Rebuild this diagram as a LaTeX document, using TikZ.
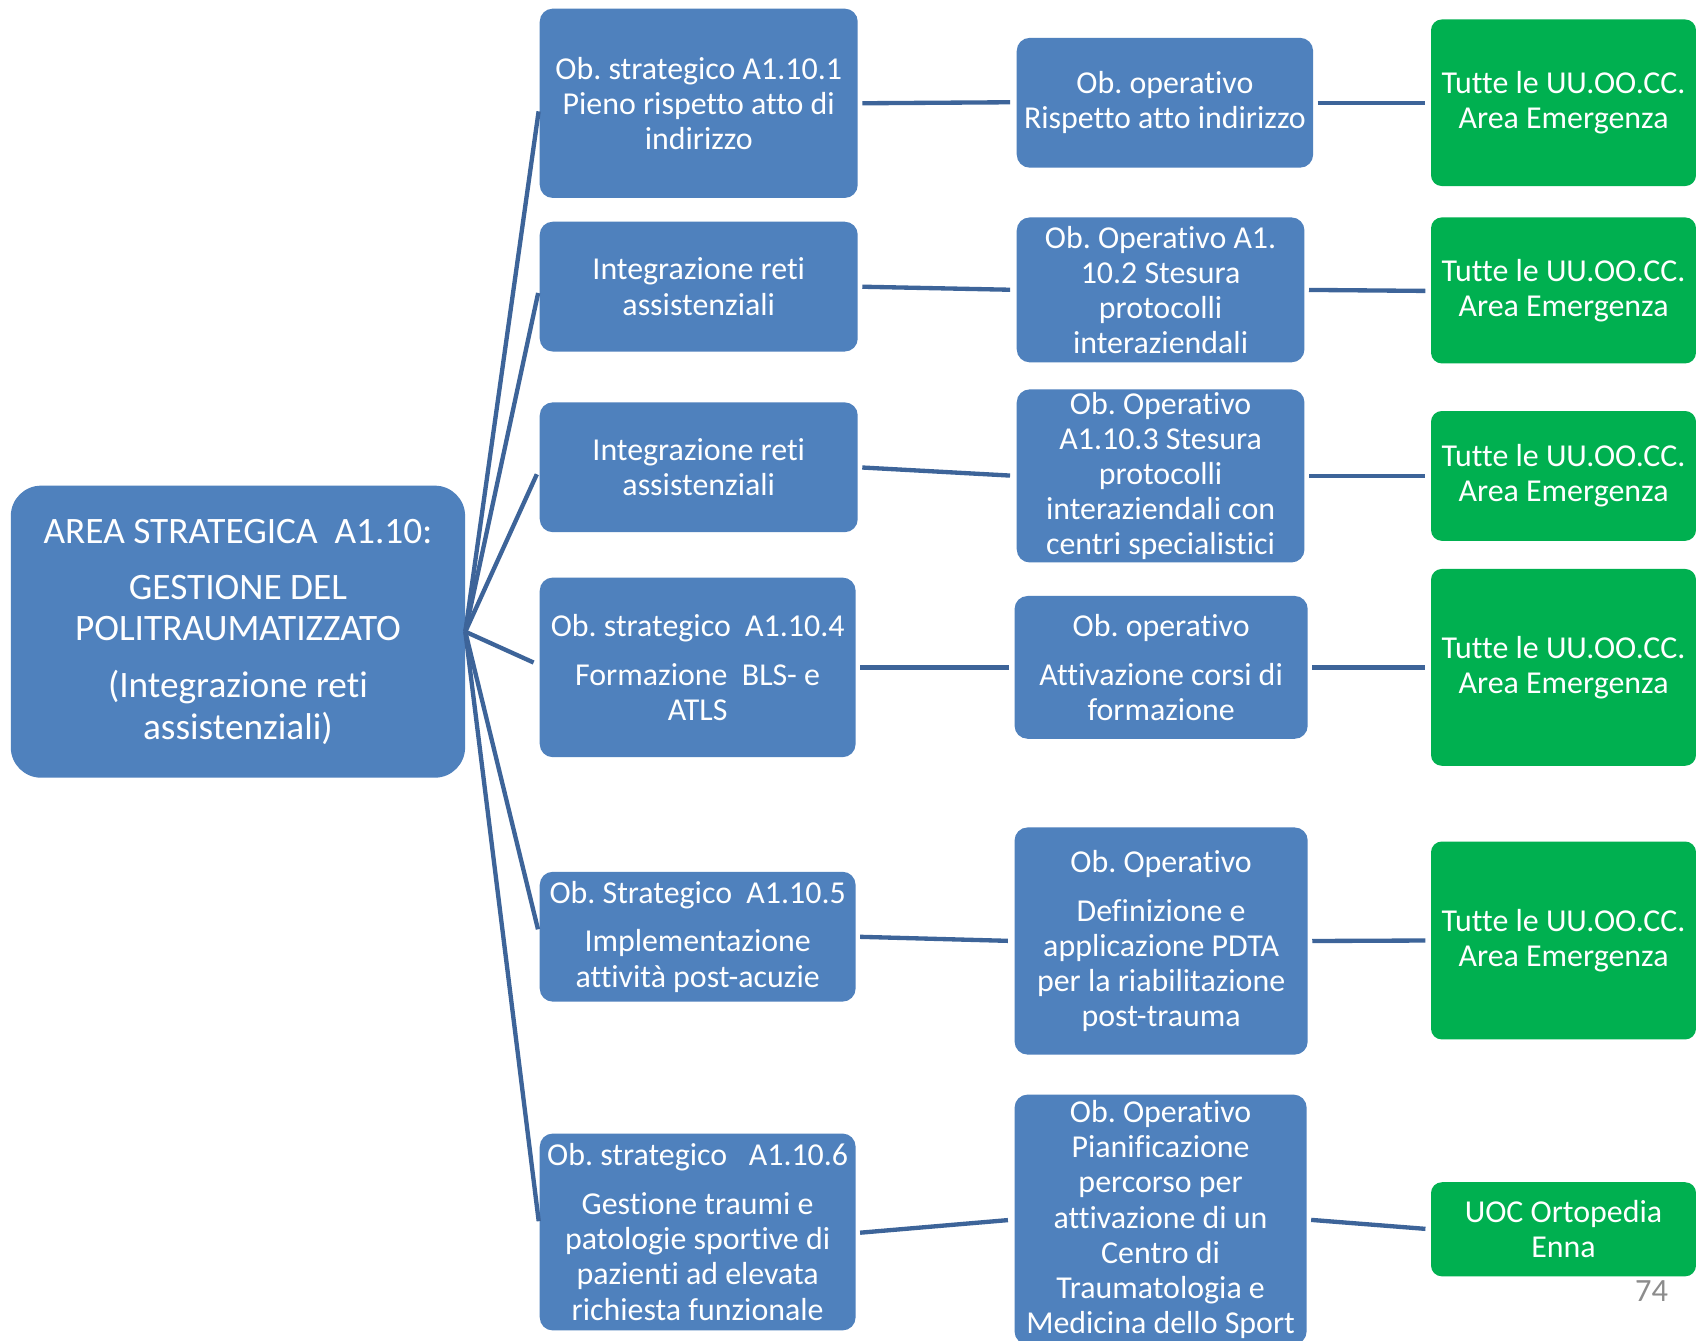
\documentclass[tikz,border=0pt]{standalone}
\usepackage{fontspec}
\setmainfont{Carlito}[Ligatures=NoCommon]
\frenchspacing
\definecolor{boxblue}{HTML}{4F81BD}
\definecolor{boxgreen}{HTML}{00B050}
\definecolor{linkblue}{HTML}{3D6499}
\definecolor{pagegray}{HTML}{8C8C8C}
\begin{document}
\begin{tikzpicture}[x=1pt,y=-1pt,
  txt/.style={text=white, align=center, inner sep=0pt,
    font=\fontsize{29.5}{32.5}\selectfont\frenchspacing},
  blk/.style={txt, fill=boxblue, rounded corners=12pt},
  grn/.style={txt, fill=boxgreen, rounded corners=10pt},
  link/.style={draw=linkblue, line width=4pt},
  fan/.style={link, shorten >=6pt}]
\clip (0,0) rectangle (1568,1239);
\fill[white] (0,0) rectangle (1568,1239);

% root area
\node[blk, rounded corners=28pt, minimum width=420pt, minimum height=270pt,
      font=\fontsize{34.5}{38}\selectfont] (root) at (220,584)
  {AREA STRATEGICA\ \ A1.10:\\[14pt]GESTIONE DEL\\POLITRAUMATIZZATO\\[15pt](Integrazione reti\\assistenziali)};

% strategic objectives
\node[blk, minimum width=294pt, minimum height=175pt] (s1) at (646,95.5)
  {Ob. strategico A1.10.1\\Pieno rispetto atto di\\indirizzo};
\node[blk, minimum width=294pt, minimum height=120pt] (s2) at (646,265)
  {Integrazione reti\\assistenziali};
\node[blk, minimum width=294pt, minimum height=120pt] (s3) at (646,432)
  {Integrazione reti\\assistenziali};
\node[blk, minimum width=292pt, minimum height=166pt] (s4) at (645,617)
  {Ob. strategico\ \ A1.10.4\\[12.5pt]Formazione\ \ BLS- e\\ATLS};
\node[blk, minimum width=292pt, minimum height=120pt] (s5) at (645,866)
  {Ob. Strategico\ \ A1.10.5\\[12.5pt]Implementazione\\attività post-acuzie};
\node[blk, minimum width=292pt, minimum height=182pt] (s6) at (645,1139)
  {Ob. strategico\ \ \ A1.10.6\\[12.5pt]Gestione traumi e\\patologie sportive di\\pazienti ad elevata\\richiesta funzionale};

% operative objectives
\node[blk, minimum width=274pt, minimum height=120pt] (o1) at (1077,95)
  {Ob. operativo\\Rispetto atto indirizzo};
\node[blk, minimum width=266pt, minimum height=134pt] (o2) at (1073,268)
  {Ob. Operativo A1.\\10.2 Stesura\\protocolli\\interaziendali};
\node[blk, minimum width=266pt, minimum height=160pt] (o3) at (1073,440)
  {Ob. Operativo\\A1.10.3 Stesura\\protocolli\\interaziendali con\\centri specialistici};
\node[blk, minimum width=271pt, minimum height=132pt] (o4) at (1073.5,617)
  {Ob. operativo\\[12.5pt]Attivazione corsi di\\formazione};
\node[blk, minimum width=271pt, minimum height=210pt] (o5) at (1073.5,870)
  {Ob. Operativo\\[12.5pt]Definizione e\\applicazione PDTA\\per la riabilitazione\\post-trauma};
\node[blk, minimum width=270pt, minimum height=231pt] (o6) at (1073,1127.5)
  {Ob. Operativo\\Pianificazione\\percorso per\\attivazione di un\\Centro di\\Traumatologia e\\Medicina dello Sport};

% responsible units
\node[grn, minimum width=245pt, minimum height=154pt] (g1) at (1445.5,95)
  {Tutte le UU.OO.CC.\\Area Emergenza};
\node[grn, minimum width=245pt, minimum height=135pt] (g2) at (1445.5,268.5)
  {Tutte le UU.OO.CC.\\Area Emergenza};
\node[grn, minimum width=245pt, minimum height=120pt] (g3) at (1445.5,440)
  {Tutte le UU.OO.CC.\\Area Emergenza};
\node[grn, minimum width=245pt, minimum height=182pt] (g4) at (1445.5,617)
  {Tutte le UU.OO.CC.\\Area Emergenza};
\node[grn, minimum width=245pt, minimum height=183pt] (g5) at (1445.5,869.5)
  {Tutte le UU.OO.CC.\\Area Emergenza};
\node[grn, minimum width=245pt, minimum height=87pt] (g6) at (1445.5,1136.5)
  {UOC Ortopedia\\Enna};

% page number
\node[text=pagegray, inner sep=0pt, font=\fontsize{30}{32}\selectfont] (pg) at (1527,1194) {74};

% fan from the root area to the strategic objectives
\draw[fan] (root.east) -- ([yshift=-1.5pt]s1.west);
\draw[fan] (root.east) -- (s2.west);
\draw[fan] (root.east) -- ([yshift=-1pt]s3.west);
\draw[fan] (root.east) -- ([yshift=2pt]s4.west);
\draw[fan] (root.east) -- ([yshift=1pt]s5.west);
\draw[fan] (root.east) -- ([yshift=4pt]s6.west);

% strategic -> operative
\draw[link, shorten <=4pt, shorten >=6pt] (s1.east) -- ([yshift=0.5pt]o1.west);
\draw[link, shorten <=4pt, shorten >=6pt] (s2.east) -- (o2.west);
\draw[link, shorten <=4pt, shorten >=6pt] (s3.east) -- (o3.west);
\draw[link, shorten <=4pt, shorten >=5pt] (s4.east) -- (o4.west);
\draw[link, shorten <=4pt, shorten >=6pt] (s5.east) -- (o5.west);
\draw[link, shorten <=4pt, shorten >=6pt] ([yshift=-1pt]s6.east) -- (o6.west);

% operative -> responsible units
\draw[link, shorten <=4pt, shorten >=5pt] (o1.east) -- (g1.west);
\draw[link, shorten <=4pt, shorten >=5pt] (o2.east) -- ([yshift=-0.5pt]g2.west);
\draw[link, shorten <=4pt, shorten >=5pt] (o3.east) -- (g3.west);
\draw[link, shorten <=4pt, shorten >=5pt] (o4.east) -- (g4.west);
\draw[link, shorten <=4pt, shorten >=5pt] (o5.east) -- (g5.west);
\draw[link, shorten <=4pt, shorten >=5pt] (o6.east) -- (g6.west);
\end{tikzpicture}
\end{document}
